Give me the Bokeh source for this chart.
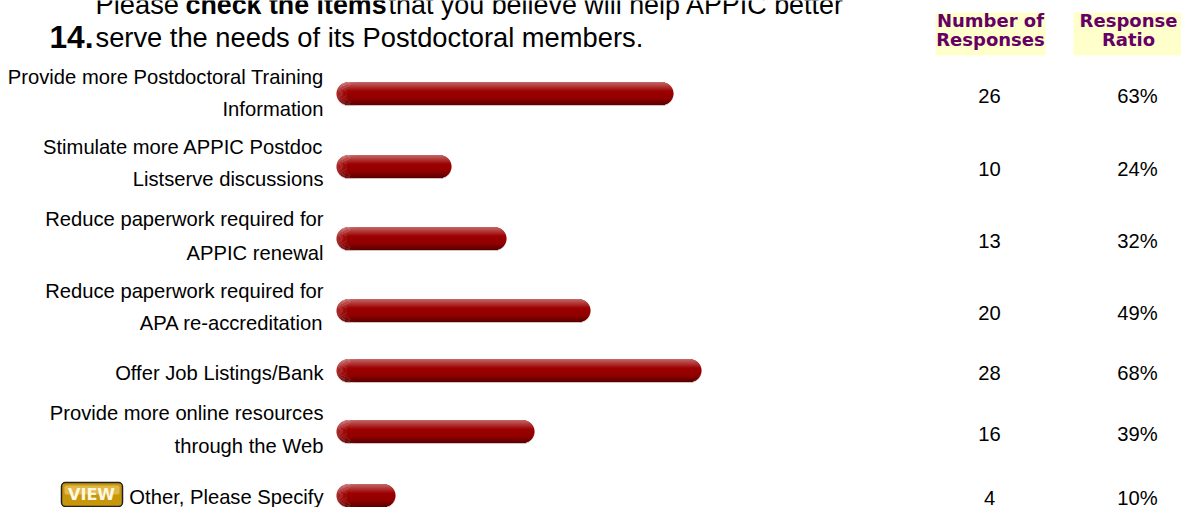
from bokeh.plotting import figure
from bokeh.models import Range1d
from bokeh.core.properties import value
from bokeh.embed import file_html
from bokeh.resources import INLINE
import math

categories = [
    ["Provide more Postdoctoral Training", "Information"],
    ["Stimulate more APPIC Postdoc", "Listserve discussions"],
    ["Reduce paperwork required for", "APPIC renewal"],
    ["Reduce paperwork required for", "APA re-accreditation"],
    ["Offer Job Listings/Bank"],
    ["Provide more online resources", "through the Web"],
    ["Other, Please Specify"],
]
responses = [26, 10, 13, 20, 28, 16, 4]
ratios = [63, 24, 32, 49, 68, 39, 10]
bar_lengths = [337, 115, 170, 254, 365, 198, 59]

# layout (pixels of the page)
bar_y = [93, 166, 238, 310, 370, 431, 495]
label_y = [[76, 108], [146, 178], [218, 252], [290, 322], [372], [412, 445], [496]]
val_y = [95, 168, 240, 312, 372, 433, 497]
BAR_X0 = 336
BAR_H = 23
FONT = value("Liberation Sans")

p = figure(width=1181, height=507, output_backend="svg", toolbar_location=None,
           x_range=Range1d(0, 1181), y_range=Range1d(507, 0),
           min_border=0, outline_line_color=None)
p.axis.visible = False
p.grid.visible = False

def lerp(a, b, t):
    return tuple(round(a[i] + (b[i] - a[i]) * t) for i in range(3))

def shade(t):
    if t < 0.4:
        return lerp((0xC4, 0x68, 0x68), (0x9C, 0x00, 0x00), t / 0.4)
    if t < 0.72:
        return lerp((0x9C, 0x00, 0x00), (0x90, 0x00, 0x00), (t - 0.4) / 0.32)
    return lerp((0x90, 0x00, 0x00), (0x58, 0x00, 0x00), (t - 0.72) / 0.28)

def hexc(c):
    return "#%02x%02x%02x" % c

left, right, top, bottom, color = [], [], [], [], []
for yc, length in zip(bar_y, bar_lengths):
    r = BAR_H / 2
    for i in range(BAR_H):
        t = (i + 0.5) / BAR_H
        d = abs(i + 0.5 - r)
        inset = r * (1 - math.sqrt(max(0.0, 1 - (d / r) ** 2)))
        base = shade(t)
        x0 = BAR_X0 + inset
        x1 = BAR_X0 + length - inset
        steps = 8
        w = 1.2
        for s in range(steps):
            left.append(x0 + s * w)
            right.append(x0 + (s + 1) * w + 0.3)
            top.append(yc - r + i)
            bottom.append(yc - r + i + 1.2)
            color.append(hexc(lerp(base, (0xE0, 0xA0, 0xA0), 0.4 * (1 - t * 0.7) * (1 - s / steps))))
        left.append(x0 + steps * w)
        right.append(x1)
        top.append(yc - r + i)
        bottom.append(yc - r + i + 1.2)
        color.append(hexc(base))
p.quad(left=left, right=right, top=top, bottom=bottom, fill_color=color, line_color=None)

# category labels
lx, ly, lt = [], [], []
for lines, ys in zip(categories, label_y):
    for s, y in zip(lines, ys):
        lx.append(323); ly.append(y); lt.append(s)
p.text(lx, ly, text=lt, text_font=FONT, text_font_size="20.2px", text_align="right",
       text_baseline="middle", text_color="#000000")

# values
p.text([989] * 7, val_y, text=[str(v) for v in responses], text_font=FONT, text_font_size="20.2px",
       text_align="center", text_baseline="middle", text_color="#000000")
p.text([1137] * 7, val_y, text=[f"{v}%" for v in ratios], text_font=FONT, text_font_size="20.2px",
       text_align="center", text_baseline="middle", text_color="#000000")

# question title
TS = "27.3px"
p.text([95], [4], text=["Please"], text_font=FONT, text_font_size=TS, text_baseline="alphabetic", text_color="#000000")
p.text([185], [4], text=["check the items"], text_font=FONT, text_font_size="26.8px", text_font_style="bold",
       text_baseline="alphabetic", text_color="#000000")
p.text([388], [4], text=["that you believe will help APPIC better"], text_font=FONT, text_font_size="26.9px",
       text_baseline="alphabetic", text_color="#000000")
p.text([95], [37], text=["serve the needs of its Postdoctoral members."], text_font=FONT, text_font_size=TS,
       text_baseline="alphabetic", text_color="#000000")
p.text([49], [36], text=["14."], text_font=FONT, text_font_size="31.7px", text_font_style="bold",
       text_baseline="alphabetic", text_color="#000000")

# column headers
p.quad(left=[935, 1073], right=[1045, 1181], top=[12, 12], bottom=[55, 55],
       fill_color="#FFFFCC", line_color=None)
HF = value("DejaVu Sans")
p.text([990, 990, 1128, 1128], [20, 39, 20, 39], text=["Number of", "Responses", "Response", "Ratio"],
       text_font=HF, text_font_size="18px", text_font_style="bold", text_align="center",
       text_baseline="middle", text_color="#660066")

# VIEW button
p.quad(left=[61], right=[122], top=[482], bottom=[506], fill_color="#C8960C", line_color="#222222", line_width=1.5,
       border_radius=4)
p.quad(left=[64], right=[119], top=[485], bottom=[494], fill_color="#E0B848", line_color=None, border_radius=2)
p.text([91], [494], text=["VIEW"], text_font=HF, text_font_size="16px", text_font_style="bold", text_align="center",
       text_baseline="middle", text_color="#FFF8E0")

open("out.html", "w").write(file_html(p, INLINE))
